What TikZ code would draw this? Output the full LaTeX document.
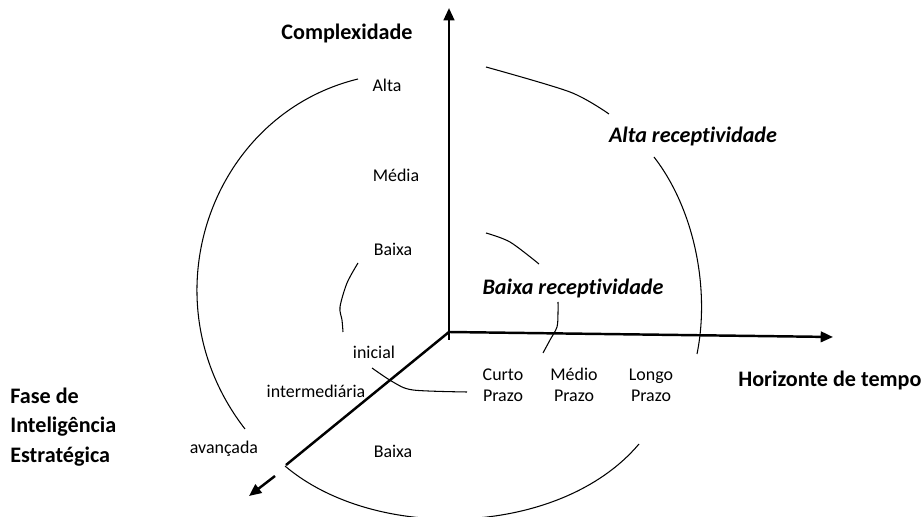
\documentclass[tikz,border=0pt]{standalone}
\usepackage{fontspec}
\setmainfont{Carlito}[Ligatures=NoCommon]
\usetikzlibrary{positioning}
\usetikzlibrary{arrows.meta}
\tikzset{
    mylabel/.style = {align=center,inner sep=0pt,font=\fontsize{10.2}{12}\selectfont,text=black},
    mytitle/.style = {align=left,inner sep=0pt,font=\fontsize{12.6}{17}\selectfont\bfseries,text=black},
    mytitlei/.style = {align=center,inner sep=0pt,font=\fontsize{12.6}{14}\selectfont\bfseries\itshape,text=black},
    edgeaxis/.style = {line width=1.4pt,black,-{Triangle[length=7pt,width=6pt]}},
    edgeline/.style = {line width=1.4pt,black},
    edgecurve/.style = {line width=0.6pt,black},
}

\begin{document}
\begin{tikzpicture}[scale=1.00]
\useasboundingbox (0,0) rectangle (18.46,-10.34);

% axes
\coordinate (origem) at (8.98,-6.64);
\coordinate (base) at (8.98,-6.80);
\coordinate (topo) at (8.98,-0.16);
\coordinate (direita) at (16.66,-6.74);
\coordinate (fundo) at (5.72,-9.30);
\coordinate (setaini) at (5.50,-9.52);
\coordinate (setafim) at (4.98,-9.92);

% curves (spiral)
\draw[edgecurve] (7.16,-1.58) .. controls (4.2,-2.3) and (2.9,-6.0) .. (4.90,-8.58);
\draw[edgecurve] plot[smooth] coordinates {(9.72,-1.34) (11.40,-1.84) (12.18,-2.28)};
\draw[edgecurve] (13.08,-3.14) .. controls (13.9,-4.2) and (14.2,-5.8) .. (13.94,-7.08);
\draw[edgecurve] (5.70,-9.32) .. controls (7.5,-10.85) and (11.2,-10.75) .. (12.78,-8.88);
\draw[edgecurve] plot[smooth] coordinates {(9.72,-4.66) (10.20,-4.84) (10.78,-5.28)};
\draw[edgecurve] plot[smooth] coordinates {(11.16,-6.04) (11.16,-6.26) (11.14,-6.54) (11.00,-6.80) (10.86,-7.06)};
\draw[edgecurve] plot[smooth] coordinates {(7.16,-5.26) (6.94,-5.66) (6.80,-6.14) (6.84,-6.40) (6.86,-6.64)};
\draw[edgecurve] plot[smooth] coordinates {(7.44,-7.36) (7.86,-7.64) (8.26,-7.80) (9.34,-7.84)};

\draw[edgeaxis] (base) -- (topo);
\draw[edgeaxis] (origem) -- (direita);
\draw[edgeline] (origem) -- (fundo);
\draw[edgeaxis] (setaini) -- (setafim);

% labels
\node[mytitle] at (6.94,-0.66) (complexidade) {Complexidade};
\node[mytitle,anchor=west] at (14.76,-7.60) (horizonte) {Horizonte de tempo};
\node[mytitle,anchor=west] at (0.20,-8.54) (fase) {Fase de\\Inteligência\\Estratégica};
\node[mytitlei] at (13.86,-2.72) (altarec) {Alta receptividade};
\node[mytitlei] at (11.46,-5.76) (baixarec) {Baixa receptividade};

\node[mylabel] at (7.74,-1.70) (alta) {Alta};
\node[mylabel] at (7.92,-3.50) (media) {Média};
\node[mylabel] at (7.86,-4.98) (baixa) {Baixa};
\node[mylabel] at (7.48,-7.04) (inicial) {inicial};
\node[mylabel] at (6.32,-7.82) (intermediaria) {intermediária};
\node[mylabel] at (4.48,-8.98) (avancada) {avançada};
\node[mylabel] at (7.86,-9.02) (baixafase) {Baixa};
\node[mylabel] at (10.06,-7.70) (curto) {Curto\\Prazo};
\node[mylabel] at (11.48,-7.70) (medio) {Médio\\Prazo};
\node[mylabel] at (13.02,-7.70) (longo) {Longo\\Prazo};
\end{tikzpicture}
\end{document}
